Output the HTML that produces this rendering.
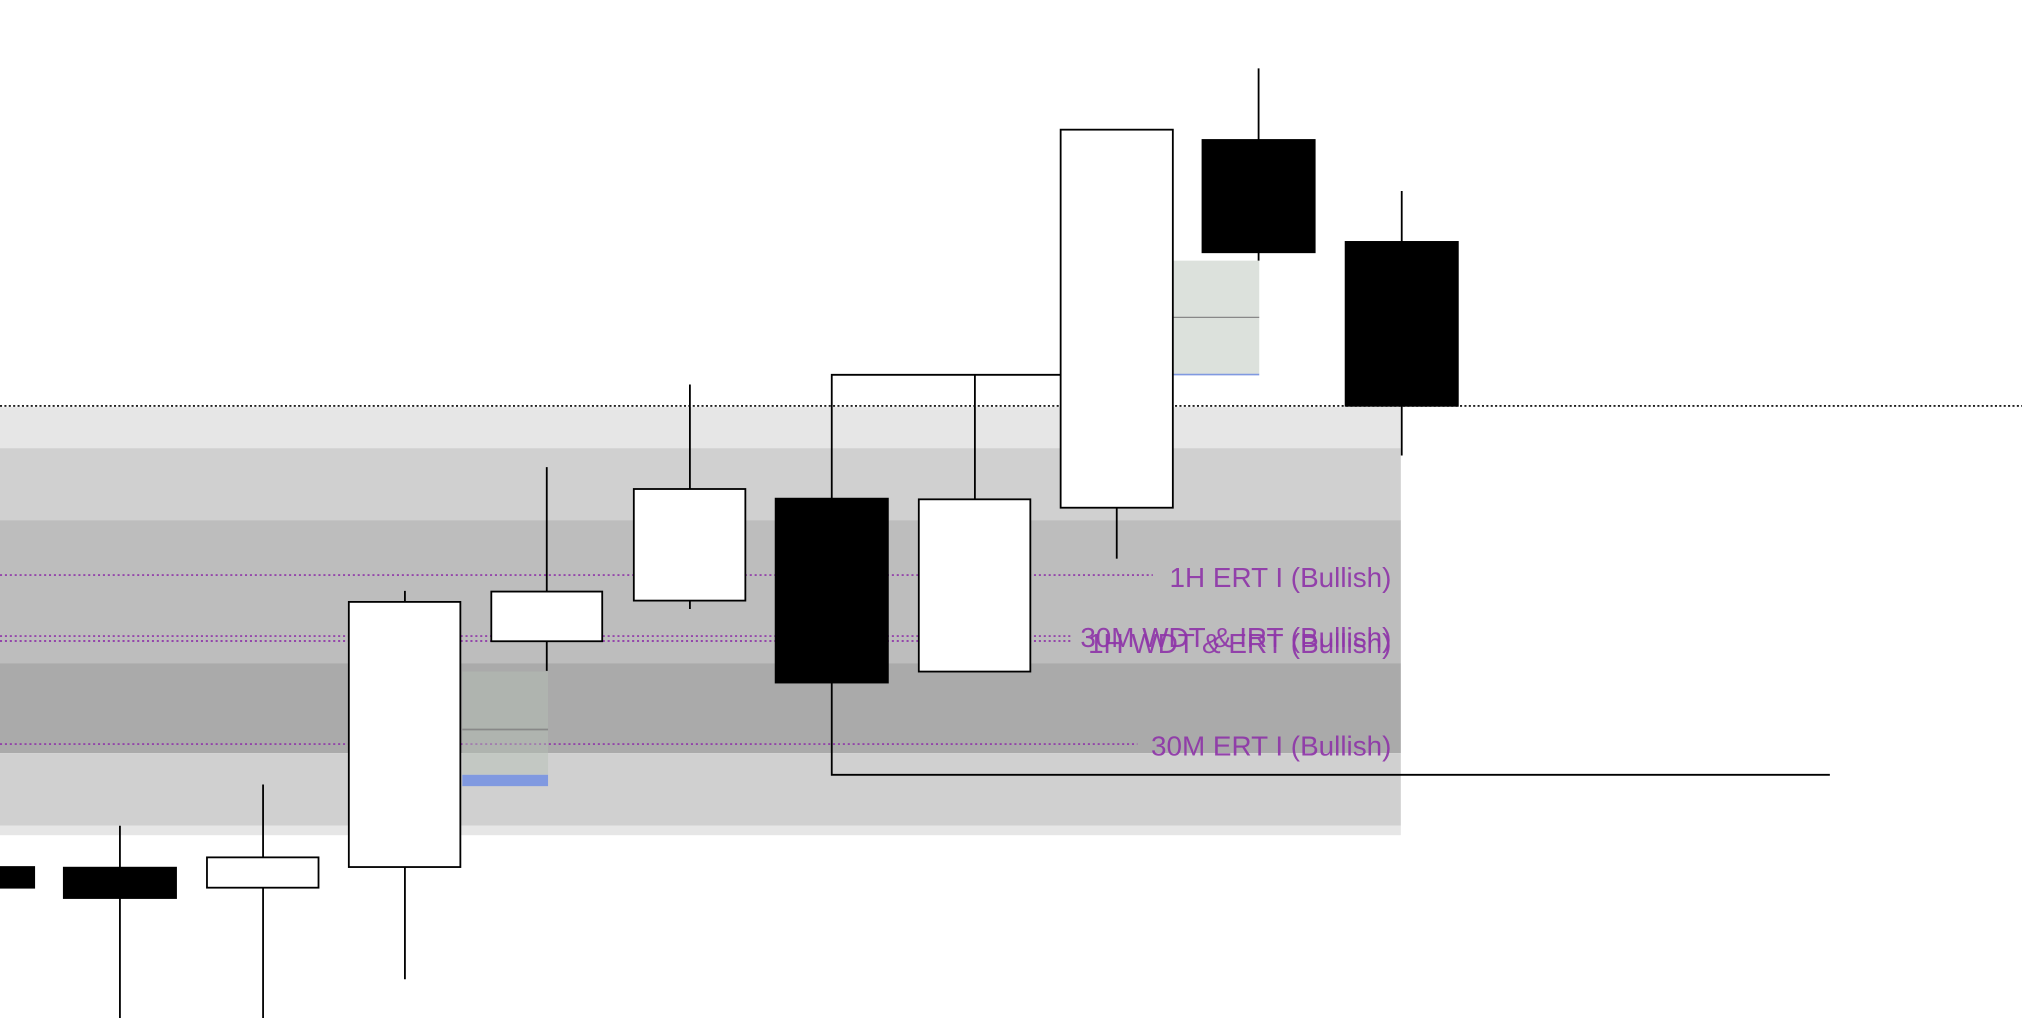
<!DOCTYPE html>
<html><head><meta charset="utf-8"><style>html,body{margin:0;padding:0;background:#fff}svg{display:block}</style></head>
<body>
<svg width="2022" height="1018" viewBox="0 0 1568 789" preserveAspectRatio="none" xmlns="http://www.w3.org/2000/svg">
<rect x="0" y="0" width="1568" height="789" fill="#fff"/>
<rect x="0" y="315.5" width="1086.3" height="32" fill="#e6e6e6"/>
<rect x="0" y="347.4" width="1086.3" height="56" fill="#d0d0d0"/>
<rect x="0" y="403.3" width="1086.3" height="111" fill="#bdbdbd"/>
<rect x="0" y="514.2" width="1086.3" height="69.5" fill="#aaaaaa"/>
<rect x="0" y="583.7" width="1086.3" height="56.1" fill="#d0d0d0"/>
<rect x="0" y="639.8" width="1086.3" height="7.5" fill="#e6e6e6"/>
<g stroke="#8e35a8" stroke-width="1.3" stroke-dasharray="1.6 2.2" fill="none">
<line x1="0" y1="445.7" x2="894" y2="445.7"/>
<line x1="0" y1="493" x2="831" y2="493"/>
<line x1="0" y1="496.8" x2="831" y2="496.8"/>
<line x1="0" y1="576.7" x2="882" y2="576.7"/>
</g>
<line x1="0" y1="314.6" x2="1568" y2="314.6" stroke="#000" stroke-width="1.3" stroke-dasharray="1.6 1.8"/>
<rect x="358.5" y="520.4" width="66.5" height="80" fill="rgba(181,191,181,0.47)"/>
<line x1="358.5" y1="565.4" x2="425" y2="565.4" stroke="#888" stroke-width="1.3"/>
<rect x="358.5" y="600.5" width="66.5" height="8.8" fill="#8099e0"/>
<rect x="910" y="202" width="66.5" height="88" fill="rgba(181,191,181,0.47)"/>
<line x1="910" y1="246" x2="976.5" y2="246" stroke="#888" stroke-width="1"/>
<line x1="910" y1="290.3" x2="976.5" y2="290.3" stroke="#8099e0" stroke-width="1.2"/>
<g stroke="#000" stroke-width="1.4" fill="none">
<polyline points="645,386 645,290.5 822,290.5"/>
<line x1="756" y1="290.5" x2="756" y2="387"/>
<polyline points="645,529 645,600.5 1419,600.5"/>
<line x1="93" y1="640" x2="93" y2="789"/>
<line x1="204" y1="608" x2="204" y2="789"/>
<line x1="314" y1="458" x2="314" y2="759"/>
<line x1="424" y1="362" x2="424" y2="520"/>
<line x1="535" y1="298" x2="535" y2="472"/>
<line x1="866" y1="393" x2="866" y2="433"/>
<line x1="976" y1="53" x2="976" y2="202"/>
<line x1="1087" y1="148" x2="1087" y2="353"/>
</g>
<g stroke="#000" stroke-width="1.4">
<rect x="-2" y="672" width="28.5" height="16" fill="#000"/>
<rect x="49.5" y="672.5" width="87" height="23.5" fill="#000"/>
<rect x="160.5" y="664.5" width="86.5" height="23.5" fill="#fff"/>
<rect x="270.5" y="466.5" width="86.5" height="205.5" fill="#fff"/>
<rect x="381" y="458.5" width="86" height="38.5" fill="#fff"/>
<rect x="491.5" y="379" width="86.5" height="86.5" fill="#fff"/>
<rect x="601.5" y="386.5" width="87" height="142.5" fill="#000"/>
<rect x="712.5" y="387" width="86.5" height="133.5" fill="#fff"/>
<rect x="822.5" y="100.5" width="87" height="293" fill="#fff"/>
<rect x="932.5" y="108.5" width="87" height="87" fill="#000"/>
<rect x="1043.5" y="187.5" width="87" height="127" fill="#000"/>
</g>
<g font-family="Liberation Sans, sans-serif" font-size="21.6" fill="#8e35a8" text-anchor="end" fill-opacity="0.92">
<text x="1079" y="455">1H ERT I (Bullish)</text>
<text x="1079" y="501.5">30M WDT &amp; IRT (Bullish)</text>
<text x="1079" y="506">1H WDT &amp; ERT (Bullish)</text>
<text x="1079" y="585.5">30M ERT I (Bullish)</text>
</g>
</svg>
</body></html>
